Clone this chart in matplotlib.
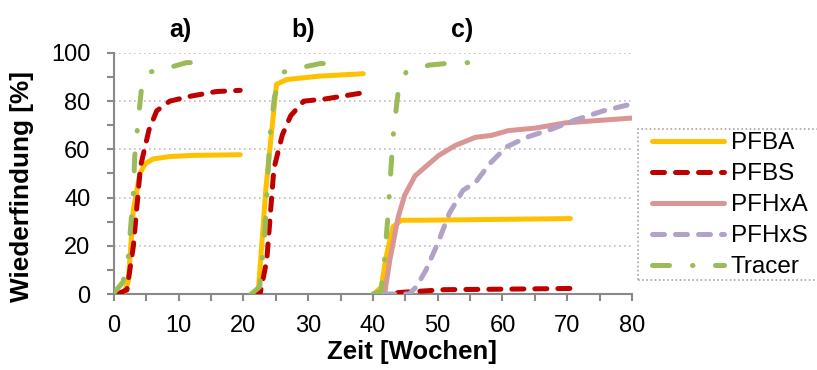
import matplotlib
matplotlib.use("Agg")
import matplotlib.pyplot as plt
from matplotlib.ticker import MultipleLocator
from matplotlib.lines import Line2D
from matplotlib.patches import Rectangle

plt.rcParams["font.family"] = ["Liberation Sans", "DejaVu Sans"]

# ---- data (weeks, recovery %) ----
# experiment a)
a_pfba_x = [0.5, 1.5, 2.2, 3.0, 4.0, 4.8, 6.0, 8.5, 12.0, 19.5]
a_pfba_y = [0, 0.5, 5, 35, 50, 54, 56, 57, 57.5, 57.8]
a_pfbs_x = [0.5, 2.0, 3.0, 4.1, 5.4, 6.6, 8.6, 11.7, 15.8, 19.5]
a_pfbs_y = [0, 1.7, 20, 53, 68, 76, 80, 82, 84, 84.5]
a_tracer_x = [0.0, 1.4, 2.2, 2.7, 3.0, 3.2, 3.6, 4.2, 5.4, 8.6, 11.2, 15.3]
a_tracer_y = [0.5, 5, 15, 32, 42, 57, 68, 84, 92, 94, 96, 96]

# experiment b)
b_pfba_x = [21.3, 22.3, 23.5, 25.1, 26.7, 31.8, 38.5]
b_pfba_y = [0, 1.5, 45, 87, 89, 90.4, 91.4]
b_pfbs_x = [21.3, 22.6, 23.6, 24.7, 26.0, 27.3, 29.3, 32.8, 38.5]
b_pfbs_y = [0, 0.5, 14, 52, 66, 74, 80, 81, 83.5]
b_tracer_x = [21.2, 22.5, 23.3, 24.1, 24.8, 26.1, 29.0, 31.8, 35.4]
b_tracer_y = [0, 3, 25, 66, 82, 92, 94, 95.6, 95.8]

# experiment c)
c_pfba_x = [40.2, 41.3, 42.0, 43.1, 44.4, 47.3, 70.5]
c_pfba_y = [0, 3, 15, 28, 30.6, 30.6, 31.3]
c_pfbs_x = [40.2, 43.4, 43.9, 51.1, 60.0, 70.5]
c_pfbs_y = [0, 0, 0.6, 1.8, 2.0, 2.3]
c_pfhxa_x = [41.8, 42.6, 43.9, 44.9, 46.5, 50.1, 52.7, 55.8, 58.3, 60.9, 65.0, 69.7, 80.0]
c_pfhxa_y = [0, 14, 32, 41, 49, 57.4, 61.6, 65, 65.8, 67.8, 68.8, 71, 73]
c_pfhxs_x = [41.5, 45.6, 46.7, 48.2, 50.0, 51.8, 53.9, 55.9, 58.0, 60.6, 63.7, 67.8, 71.0, 75.6, 80.2]
c_pfhxs_y = [0, 0, 3, 10, 21, 33.5, 43, 46.5, 54, 61, 65, 68.6, 72, 76, 79]
c_tracer_x = [40.0, 41.3, 41.8, 42.3, 42.8, 43.2, 43.9, 45.1, 48.7, 51.6, 54.9]
c_tracer_y = [0, 1.4, 15, 32, 53, 68, 84, 92, 95, 95.7, 96]

panel_labels = ["a)", "b)", "c)"]
panel_label_x = [10.2, 29.2, 53.7]
series_names = ["PFBA", "PFBS", "PFHxA", "PFHxS", "Tracer"]

# ---- styles ----
col = {"PFBA": "#FFC000", "PFBS": "#C00000", "PFHxA": "#D99694",
       "PFHxS": "#B3A2C7", "Tracer": "#9BBB59"}
dash = {"PFBA": None, "PFBS": (0, (2.4, 2.2)), "PFHxA": None,
        "PFHxS": (0, (2.4, 2.2)), "Tracer": (0, (3.4, 4.6, 0.1, 4.5))}
lw = 3.6

fig = plt.figure(figsize=(8.17, 3.70), dpi=100)
ax = fig.add_axes([0.1395, 0.2054, 0.634, 0.6514])


def draw(x, y, name):
    ls = dash[name]
    kw = dict(color=col[name], lw=lw, solid_capstyle="round",
              dash_capstyle="round", solid_joinstyle="round", zorder=3)
    if ls is None:
        ax.plot(x, y, "-", **kw)
    else:
        ax.plot(x, y, linestyle=ls, **kw)


draw(a_pfba_x, a_pfba_y, "PFBA")
draw(a_pfbs_x, a_pfbs_y, "PFBS")
draw(a_tracer_x, a_tracer_y, "Tracer")
draw(b_pfba_x, b_pfba_y, "PFBA")
draw(b_pfbs_x, b_pfbs_y, "PFBS")
draw(b_tracer_x, b_tracer_y, "Tracer")
draw(c_pfba_x, c_pfba_y, "PFBA")
draw(c_pfbs_x, c_pfbs_y, "PFBS")
draw(c_pfhxa_x, c_pfhxa_y, "PFHxA")
draw(c_pfhxs_x, c_pfhxs_y, "PFHxS")
draw(c_tracer_x, c_tracer_y, "Tracer")

ax.set_xlim(0, 80)
ax.set_ylim(0, 100)
ax.xaxis.set_major_locator(MultipleLocator(10))
ax.xaxis.set_minor_locator(MultipleLocator(5))
ax.yaxis.set_major_locator(MultipleLocator(20))
ax.yaxis.set_minor_locator(MultipleLocator(10))

spine_c = "#898989"
for s in ["top", "right"]:
    ax.spines[s].set_visible(False)
for s in ["left", "bottom"]:
    ax.spines[s].set_color(spine_c)
    ax.spines[s].set_linewidth(1.5)
ax.tick_params(which="both", direction="out", length=5, width=1.5,
               color=spine_c, labelsize=17)
ax.tick_params(axis="x", which="major", pad=10)
ax.tick_params(axis="y", which="major", pad=12)
ax.grid(axis="y", which="major", color="#BFBFBF", linestyle=(0, (1, 2)),
        linewidth=1.2, zorder=0)
ax.set_axisbelow(True)

# axis titles sit off-centre like in the reference
ax.set_xlabel("Zeit [Wochen]", fontsize=18.5, fontweight="bold")
ax.set_ylabel("Wiederfindung [%]", fontsize=18.8, fontweight="bold")
ax.xaxis.set_label_coords(0.575, -0.24)
ax.xaxis.label.set_va("center")
ax.yaxis.set_label_coords(-0.178, 0.448)
ax.yaxis.label.set_va("center")

for lab, lx in zip(panel_labels, panel_label_x):
    ax.text(lx, 109.5, lab, fontsize=18, fontweight="bold",
            ha="center", va="center", clip_on=False)

# legend (frame drawn separately, it runs off the right edge)
handles = []
for name in series_names:
    ls = dash[name] if dash[name] is not None else "-"
    handles.append(Line2D([], [], color=col[name], lw=lw, linestyle=ls,
                          solid_capstyle="round", dash_capstyle="round"))
fig.legend(handles, series_names, loc="upper left",
           bbox_to_anchor=(652 / 817, 1 - 132 / 370), fontsize=17.5,
           handlelength=2.95, handletextpad=0.28, labelspacing=0.37,
           borderpad=0, borderaxespad=0, frameon=False)
fig.patches.append(Rectangle((638 / 817, 1 - 280 / 370), 0.24, 151 / 370,
                             transform=fig.transFigure, fill=False,
                             edgecolor="#A6A6A6", linestyle=(0, (1, 1.5)),
                             linewidth=1.2))

fig.savefig("out.png", dpi=100)
